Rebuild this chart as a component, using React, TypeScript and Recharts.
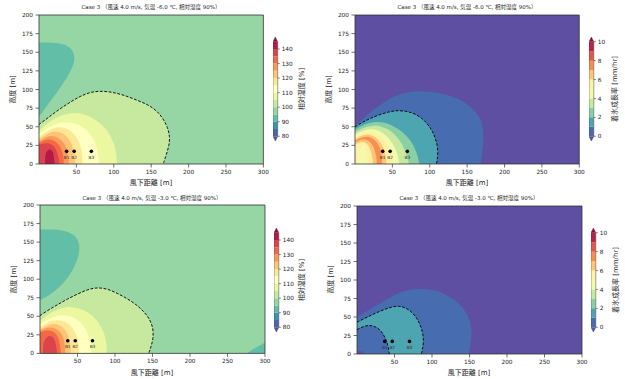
import React from "react";
import { ComposedChart, Area, Line, Scatter, XAxis, YAxis, ReferenceArea } from "recharts";

// Contour panels: relative humidity / ice accretion rate downwind of a source.
// Every filled contour is an Area drawn from the bottom edge (y = 0) up to its outline.

type Pt = [number, number];

// ---------------------------------------------------------------------------
// Data
// ---------------------------------------------------------------------------

const X_TICKS = [50, 100, 150, 200, 250, 300];
const Y_TICKS = [0, 25, 50, 75, 100, 125, 150, 175, 200];

const RH_LEVELS = [80, 85, 90, 95, 100, 105, 110, 115, 120, 125, 130, 135, 140, 145];
const RH_TICKS = [80, 90, 100, 110, 120, 130, 140];
const ICE_LEVELS = [0, 1, 2, 3, 4, 5, 6, 7, 8, 9, 10];
const ICE_TICKS = [0, 2, 4, 6, 8, 10];

const SENSORS = [
  { name: "B1", x: 37, y: 17 },
  { name: "B2", x: 47, y: 17 },
  { name: "B3", x: 70, y: 17 },
];

const FULL: Pt[] = [[0, 200], [300, 200]];

// Case 3, -6.0 C, relative humidity
const TL_RH_90: Pt[] = [[0, 163], [15, 163], [28, 162], [38, 159], [45, 153], [48, 144], [46, 133], [41, 122], [33, 109], [24, 96], [14, 83], [6, 71], [0, 64]];
const TL_RH_100: Pt[] = [[0, 53], [12, 62], [25, 72], [40, 82], [55, 91], [70, 97], [85, 98], [100, 96], [115, 92], [130, 86], [145, 80], [157, 72], [166, 61], [172, 49], [175, 37], [174, 25], [170, 12], [166, 0]];
const TL_RH_105: Pt[] = [[0, 45], [10, 54], [22, 62], [35, 67], [48, 69], [60, 67], [72, 62], [83, 54], [92, 44], [98, 33], [102, 21], [104, 10], [104, 0]];
const TL_RH_110: Pt[] = [[0, 40], [10, 48], [22, 54], [35, 57], [48, 55], [60, 49], [69, 40], [75, 30], [78, 19], [80, 8], [80, 0]];
const TL_RH_115: Pt[] = [[0, 36], [8, 42], [16, 47], [25, 50], [34, 49], [42, 45], [49, 38], [54, 29], [57, 19], [58, 9], [58, 0]];
const TL_RH_120: Pt[] = [[0, 33], [7, 38], [14, 42], [20, 44], [27, 43], [34, 40], [40, 34], [44, 26], [47, 17], [48, 8], [48, 0]];
const TL_RH_125: Pt[] = [[0, 30], [6, 34], [11, 37], [16, 38], [22, 37], [28, 34], [33, 29], [37, 21], [39, 12], [40, 0]];
const TL_RH_130: Pt[] = [[0, 28], [5, 31], [10, 33], [14, 33], [19, 32], [24, 29], [28, 24], [31, 17], [33, 9], [33, 0]];
const TL_RH_135: Pt[] = [[0, 26], [4, 27], [8, 28], [12, 28], [16, 27], [20, 24], [23, 19], [25, 13], [27, 6], [27, 0]];
const TL_RH_140: Pt[] = [[8, 0], [8, 8], [9, 14], [11, 18], [14, 20], [17, 19], [19, 15], [20, 9], [21, 0]];

// Case 3, -3.0 C, relative humidity
const BL_RH_90: Pt[] = [[0, 167], [15, 167], [30, 166], [42, 162], [50, 155], [53, 145], [52, 133], [47, 119], [40, 106], [31, 94], [21, 85], [10, 77], [0, 72]];
const BL_RH_90_CORNER: Pt[] = [[276, 0], [283, 5], [290, 9], [297, 13], [304, 16]];
const BL_RH_100: Pt[] = [[0, 51], [12, 59], [24, 66], [36, 73], [50, 80], [63, 86], [76, 89], [90, 87], [103, 81], [116, 74], [128, 66], [139, 56], [147, 45], [151, 33], [151, 20], [148, 9], [145, 0]];
const BL_RH_105: Pt[] = [[0, 44], [10, 52], [22, 59], [35, 63], [48, 62], [60, 58], [70, 51], [78, 42], [84, 31], [88, 19], [89, 8], [89, 0]];
const BL_RH_110: Pt[] = [[0, 39], [9, 45], [19, 50], [29, 52], [39, 51], [48, 47], [56, 40], [62, 31], [66, 21], [68, 10], [68, 0]];
const BL_RH_115: Pt[] = [[0, 35], [7, 40], [15, 44], [23, 45], [31, 44], [38, 40], [44, 34], [48, 26], [51, 17], [52, 8], [52, 0]];
const BL_RH_120: Pt[] = [[0, 32], [6, 36], [12, 39], [18, 40], [24, 39], [30, 36], [35, 30], [38, 23], [40, 15], [41, 7], [41, 0]];
const BL_RH_125: Pt[] = [[0, 30], [5, 33], [10, 35], [15, 35], [20, 34], [25, 31], [29, 26], [32, 19], [33, 11], [34, 0]];
const BL_RH_130: Pt[] = [[0, 28], [4, 30], [8, 31], [12, 31], [17, 30], [21, 27], [24, 22], [26, 16], [27, 8], [28, 0]];
const BL_RH_135: Pt[] = [[4, 0], [4, 9], [5, 16], [8, 21], [12, 24], [16, 23], [19, 20], [21, 14], [22, 7], [23, 0]];

// Case 3, -6.0 C, ice accretion rate
const TR_ICE_0: Pt[] = [[0, 52], [12, 62], [25, 73], [40, 84], [55, 92], [70, 97], [85, 98], [100, 97], [115, 95], [130, 91], [143, 85], [155, 77], [164, 67], [170, 55], [172, 42], [172, 29], [170, 15], [168, 0]];
const TR_ICE_1: Pt[] = [[0, 50], [10, 56], [20, 61], [32, 66], [45, 70], [56, 72], [68, 71], [79, 68], [89, 62], [97, 54], [103, 45], [107, 36], [110, 26], [111, 15], [110, 6], [109, 0]];
const TR_ICE_2: Pt[] = [[0, 46], [8, 51], [18, 55], [28, 57], [38, 56], [48, 53], [58, 47], [67, 40], [75, 31], [80, 21], [84, 11], [86, 0]];
const TR_ICE_3: Pt[] = [[0, 42], [8, 47], [16, 50], [25, 52], [34, 51], [43, 47], [51, 42], [58, 34], [64, 25], [68, 15], [71, 6], [72, 0]];
const TR_ICE_4: Pt[] = [[0, 39], [7, 43], [14, 46], [21, 47], [29, 46], [37, 42], [44, 36], [50, 28], [55, 19], [58, 9], [59, 0]];
const TR_ICE_5: Pt[] = [[0, 36], [6, 40], [12, 42], [19, 43], [26, 42], [33, 38], [39, 32], [44, 24], [47, 15], [49, 7], [50, 0]];
const TR_ICE_6: Pt[] = [[0, 33], [6, 37], [12, 39], [18, 40], [24, 38], [30, 34], [35, 28], [39, 20], [41, 11], [42, 0]];
const TR_ICE_7: Pt[] = [[0, 31], [5, 34], [11, 36], [17, 37], [23, 35], [28, 31], [32, 25], [35, 17], [36, 8], [36, 0]];
const TR_ICE_6_IN: Pt[] = [[0, 29], [5, 32], [10, 33], [15, 33], [20, 30], [24, 25], [27, 17], [29, 8], [29, 0]];
const TR_ICE_5_IN: Pt[] = [[0, 26], [4, 28], [9, 30], [14, 29], [18, 25], [21, 18], [23, 10], [24, 0]];
const TR_ICE_4_IN: Pt[] = [[4, 0], [4, 10], [5, 18], [8, 24], [11, 25], [14, 22], [15, 14], [15, 6], [15, 0]];

// Case 3, -3.0 C, ice accretion rate
const BR_ICE_0: Pt[] = [[0, 50], [12, 57], [25, 65], [38, 73], [52, 81], [65, 86], [78, 88], [92, 88], [106, 86], [119, 80], [131, 73], [141, 63], [148, 52], [152, 40], [153, 27], [151, 13], [149, 0]];
const BR_ICE_1: Pt[] = [[0, 43], [12, 49], [24, 55], [36, 60], [47, 64], [57, 65], [66, 62], [74, 56], [80, 48], [85, 38], [88, 27], [89, 15], [87, 6], [86, 0]];
const BR_ICE_0_IN: Pt[] = [[0, 33], [8, 37], [15, 39], [22, 38], [28, 35], [33, 30], [37, 23], [40, 16], [42, 8], [43, 0]];
const BR_ICE_UNDER: Pt[] = [[0, 4], [6, 4], [9, 3], [10, 1], [10, 0]];

// ---------------------------------------------------------------------------
// Styles
// ---------------------------------------------------------------------------

const RH_COLORS = ["#4d65ac", "#3a91b9", "#62bea7", "#96d5a4", "#c6e89f", "#ecf8a1", "#ffffbf", "#fee797", "#fdc575", "#fa9a58", "#f26944", "#da454d", "#b51947"];
const ICE_COLORS = ["#486cb0", "#4ca5b1", "#89d0a5", "#c9e99e", "#f3faac", "#fff0a5", "#fec776", "#f98e52", "#e55649", "#ba2048"];
const UNDER = "#5e4fa2";
const OVER = "#9e0142";

const FONT = '"DejaVu Sans", "Noto Sans CJK JP", sans-serif';
const TICK = { fill: "#222", fontSize: 5.8, fontFamily: FONT };

const SCALES = {
  rh: { levels: RH_LEVELS, ticks: RH_TICKS, colors: RH_COLORS, label: "相対湿度 [%]" },
  ice: { levels: ICE_LEVELS, ticks: ICE_TICKS, colors: ICE_COLORS, label: "着氷成長率 [mm/hr]" },
};

type Kind = keyof typeof SCALES;

function bandColor(kind: Kind, band: number) {
  const { levels, colors } = SCALES[kind];
  if (band < levels[0]) return UNDER;
  if (band >= levels[levels.length - 1]) return OVER;
  return colors[levels.indexOf(band)];
}

interface Region { band: number; pts: Pt[] }
interface PanelSpec { title: string; kind: Kind; regions: Region[]; dashed: Pt[][] }

const PANELS: PanelSpec[] = [
  {
    title: "Case 3 （風速 4.0 m/s, 気温 -6.0 ℃, 相対湿度 90%）",
    kind: "rh",
    regions: [
      { band: 95, pts: FULL }, { band: 90, pts: TL_RH_90 }, { band: 100, pts: TL_RH_100 },
      { band: 105, pts: TL_RH_105 }, { band: 110, pts: TL_RH_110 }, { band: 115, pts: TL_RH_115 },
      { band: 120, pts: TL_RH_120 }, { band: 125, pts: TL_RH_125 }, { band: 130, pts: TL_RH_130 },
      { band: 135, pts: TL_RH_135 }, { band: 140, pts: TL_RH_140 },
    ],
    dashed: [TL_RH_100],
  },
  {
    title: "Case 3 （風速 4.0 m/s, 気温 -6.0 ℃, 相対湿度 90%）",
    kind: "ice",
    regions: [
      { band: -1, pts: FULL }, { band: 0, pts: TR_ICE_0 }, { band: 1, pts: TR_ICE_1 },
      { band: 2, pts: TR_ICE_2 }, { band: 3, pts: TR_ICE_3 }, { band: 4, pts: TR_ICE_4 },
      { band: 5, pts: TR_ICE_5 }, { band: 6, pts: TR_ICE_6 }, { band: 7, pts: TR_ICE_7 },
      { band: 6, pts: TR_ICE_6_IN }, { band: 5, pts: TR_ICE_5_IN }, { band: 4, pts: TR_ICE_4_IN },
    ],
    dashed: [TR_ICE_1],
  },
  {
    title: "Case 3 （風速 4.0 m/s, 気温 -3.0 ℃, 相対湿度 90%）",
    kind: "rh",
    regions: [
      { band: 95, pts: FULL }, { band: 90, pts: BL_RH_90 }, { band: 90, pts: BL_RH_90_CORNER },
      { band: 100, pts: BL_RH_100 }, { band: 105, pts: BL_RH_105 }, { band: 110, pts: BL_RH_110 },
      { band: 115, pts: BL_RH_115 }, { band: 120, pts: BL_RH_120 }, { band: 125, pts: BL_RH_125 },
      { band: 130, pts: BL_RH_130 }, { band: 135, pts: BL_RH_135 },
    ],
    dashed: [BL_RH_100],
  },
  {
    title: "Case 3 （風速 4.0 m/s, 気温 -3.0 ℃, 相対湿度 90%）",
    kind: "ice",
    regions: [
      { band: -1, pts: FULL }, { band: 0, pts: BR_ICE_0 }, { band: 1, pts: BR_ICE_1 },
      { band: 0, pts: BR_ICE_0_IN }, { band: -1, pts: BR_ICE_UNDER },
    ],
    dashed: [BR_ICE_1, BR_ICE_0_IN],
  },
];

// page layout (pixels) for each panel, same order as PANELS
const LAYOUTS = [
  { plot: { l: 38.6, t: 15, w: 224.4, h: 149 }, cb: { l: 273, t: 37, w: 4.7, h: 104 }, title: [151, 7], xlab: [151, 182.7], ylab: [13.3, 89.5], cblab: [302, 89] },
  { plot: { l: 355, t: 14.7, w: 224.3, h: 149 }, cb: { l: 589, t: 37.3, w: 4.8, h: 104 }, title: [467, 7], xlab: [467, 182.7], ylab: [329, 89.5], cblab: [615, 89] },
  { plot: { l: 40, t: 205.3, w: 225, h: 148.4 }, cb: { l: 274, t: 227.8, w: 4.8, h: 104 }, title: [152, 198.3], xlab: [152, 373], ylab: [13.5, 279.5], cblab: [302, 280] },
  { plot: { l: 356.7, t: 205.7, w: 225, h: 148 }, cb: { l: 591, t: 227.7, w: 4.8, h: 104 }, title: [469, 198.3], xlab: [469, 373], ylab: [330.5, 279.5], cblab: [616, 280] },
];

const toXY = (pts: Pt[]) => pts.map(([x, y]) => ({ x, y }));

// ---------------------------------------------------------------------------
// Components
// ---------------------------------------------------------------------------

const SensorDot = (p: any) => (
  <g>
    <circle cx={p.cx} cy={p.cy} r={1.8} fill="#000" />
    <text x={p.cx} y={p.cy + 7.5} textAnchor="middle" fontSize={4.3} fill="#333" fontFamily={FONT}>
      {p.payload.name}
    </text>
  </g>
);

function ContourPlot({ spec, layout }: { spec: PanelSpec; layout: (typeof LAYOUTS)[number] }) {
  const { plot } = layout;
  const YW = 28, XH = 14, MT = 2, MR = 12;
  return (
    <div style={{ position: "absolute", left: plot.l - YW, top: plot.t - MT }}>
      <ComposedChart width={YW + plot.w + MR} height={MT + plot.h + XH} margin={{ top: MT, right: MR, left: 0, bottom: 0 }}>
        <XAxis type="number" dataKey="x" domain={[0, 300]} ticks={X_TICKS} interval={0} allowDataOverflow
          height={XH} tick={TICK} tickSize={3.5} tickMargin={2} axisLine={false} tickLine={{ stroke: "#333", strokeWidth: 0.7 }} />
        <YAxis type="number" dataKey="y" domain={[0, 200]} ticks={Y_TICKS} interval={0} allowDataOverflow
          width={YW} tick={TICK} tickSize={3.5} tickMargin={2.5} axisLine={false} tickLine={{ stroke: "#333", strokeWidth: 0.7 }} />

        {spec.regions.map((r, i) => (
          <Area key={`r${i}`} data={toXY(r.pts)} dataKey="y" type="basis" stroke="none"
            fill={bandColor(spec.kind, r.band)} fillOpacity={1} isAnimationActive={false} activeDot={false} />
        ))}

        {spec.dashed.map((pts, i) => (
          <Line key={`d${i}`} data={toXY(pts)} dataKey="y" type="basis" stroke="#000" strokeWidth={0.9}
            strokeDasharray="2.8 1.6" dot={false} activeDot={false} isAnimationActive={false} />
        ))}

        <Scatter data={SENSORS} dataKey="y" shape={SensorDot} isAnimationActive={false} />
        <ReferenceArea x1={0} x2={300} y1={0} y2={200} fill="none" stroke="#333" strokeWidth={0.8} />
      </ComposedChart>
    </div>
  );
}

function Colorbar({ kind, layout }: { kind: Kind; layout: (typeof LAYOUTS)[number] }) {
  const { levels, ticks, colors } = SCALES[kind];
  const { cb } = layout;
  const lo = levels[0];
  const hi = levels[levels.length - 1];
  const ext = (hi - lo) * 0.05;
  const YW = 20;

  const bands = colors.map((c, i) => ({
    color: c,
    data: [{ x: 0, r: [levels[i], levels[i + 1]] }, { x: 1, r: [levels[i], levels[i + 1]] }],
  }));
  const under = [{ x: 0, r: [lo, lo] }, { x: 0.5, r: [lo - ext, lo] }, { x: 1, r: [lo, lo] }];
  const over = [{ x: 0, r: [hi, hi] }, { x: 0.5, r: [hi, hi + ext] }, { x: 1, r: [hi, hi] }];
  const outline = [
    { x: 0.5, y: lo - ext }, { x: 0, y: lo }, { x: 0, y: hi }, { x: 0.5, y: hi + ext },
    { x: 1, y: hi }, { x: 1, y: lo }, { x: 0.5, y: lo - ext },
  ];

  return (
    <div style={{ position: "absolute", left: cb.l, top: cb.t }}>
      <ComposedChart width={cb.w + YW} height={cb.h} margin={{ top: 0, right: 0, left: 0, bottom: 0 }}>
        <XAxis type="number" dataKey="x" domain={[0, 1]} hide />
        <YAxis type="number" orientation="right" domain={[lo - ext, hi + ext]} ticks={ticks} interval={0} allowDataOverflow
          width={YW} tick={TICK} tickSize={2} tickMargin={2} axisLine={false} tickLine={{ stroke: "#333", strokeWidth: 0.6 }} />
        <Area data={under} dataKey="r" type="linear" stroke="none" fill={UNDER} fillOpacity={1} isAnimationActive={false} activeDot={false} />
        {bands.map((b, i) => (
          <Area key={i} data={b.data} dataKey="r" type="linear" stroke="none" fill={b.color} fillOpacity={1} isAnimationActive={false} activeDot={false} />
        ))}
        <Area data={over} dataKey="r" type="linear" stroke="none" fill={OVER} fillOpacity={1} isAnimationActive={false} activeDot={false} />
        <Line data={outline} dataKey="y" type="linear" stroke="#444" strokeWidth={0.5} dot={false} activeDot={false} isAnimationActive={false} />
      </ComposedChart>
    </div>
  );
}

function Texts() {
  return (
    <svg width={625} height={379} style={{ position: "absolute", left: 0, top: 0, pointerEvents: "none" }} fontFamily={FONT}>
      {PANELS.map((p, i) => {
        const l = LAYOUTS[i];
        return (
          <g key={i}>
            <text x={l.title[0]} y={l.title[1]} textAnchor="middle" dominantBaseline="central" fontSize={5.5} fill="#222">{p.title}</text>
            <text x={l.xlab[0]} y={l.xlab[1]} textAnchor="middle" dominantBaseline="central" fontSize={7} fill="#222">風下距離 [m]</text>
            <text transform={`translate(${l.ylab[0]},${l.ylab[1]}) rotate(-90)`} textAnchor="middle" dominantBaseline="central" fontSize={7} fill="#222">高度 [m]</text>
            <text transform={`translate(${l.cblab[0]},${l.cblab[1]}) rotate(-90)`} textAnchor="middle" dominantBaseline="central" fontSize={7} fill="#222">{SCALES[p.kind].label}</text>
          </g>
        );
      })}
    </svg>
  );
}

export default function App() {
  return (
    <div style={{ position: "absolute", left: 0, top: 0, width: 625, height: 379, background: "#fff", overflow: "hidden" }}>
      {PANELS.map((p, i) => (
        <React.Fragment key={i}>
          <ContourPlot spec={p} layout={LAYOUTS[i]} />
          <Colorbar kind={p.kind} layout={LAYOUTS[i]} />
        </React.Fragment>
      ))}
      <Texts />
    </div>
  );
}
